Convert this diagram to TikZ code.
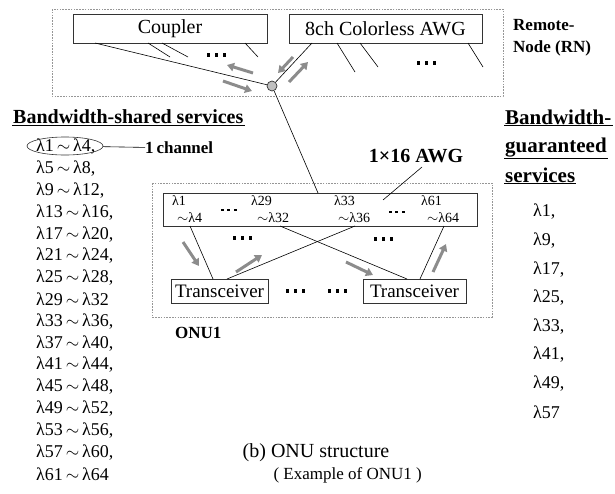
\documentclass[tikz,border=0pt]{standalone}
\usepackage{fontspec}
\setmainfont{Liberation Serif}
\usetikzlibrary{arrows.meta}
\usetikzlibrary{shapes.geometric}
\definecolor{dgray}{RGB}{150,150,150}
\definecolor{agray}{RGB}{140,140,140}

\tikzset{
  dashbox/.style={draw=dgray, line width=0.7pt, dash pattern=on 1.6pt off 1.2pt},
  box/.style={draw=black!80, line width=0.8pt, inner sep=0pt, font=\fontsize{20}{24}\selectfont},
  garrow/.style={draw=agray, line width=3pt, -{Triangle[length=7pt,width=8.5pt]}},
  lam/.style={anchor=west, inner sep=0pt, font=\fontsize{18}{20}\selectfont},
  awglab/.style={anchor=north west, align=left, inner sep=0pt, font=\fontsize{14}{17.5}\selectfont},
  bold/.style={inner sep=0pt, font=\fontsize{17}{22}\selectfont\bfseries},
  head/.style={anchor=west, inner sep=1pt, font=\fontsize{20}{24}\selectfont\bfseries},
  threedots/.pic={\foreach \k in {0,1,2} \fill (\k*8,-1.6) rectangle ++(3.4,3.2);}
}

\begin{document}
\begin{tikzpicture}[x=1pt,y=-1pt]
\useasboundingbox (0,0) rectangle (615,493);

%Remote node:
\draw[dashbox] (52,9) rectangle (503,96);
\node[box, minimum width=194pt, minimum height=29pt] (cpl) at (170,28.5) {Coupler};
\node[box, minimum width=193pt, minimum height=29pt] (cawg) at (385.5,28.5) {8ch Colorless AWG};
\node[bold, anchor=west, align=left] (rn) at (513,38) {Remote-\\Node (RN)};
\node[circle, draw=black!80, fill=black!25, line width=0.7pt, minimum size=10pt, inner sep=0pt] (sp) at (272,86) {};

\coordinate (c1) at (95,43);
\coordinate (c2) at (312,43);
\draw[line width=0.6pt] (c1) -- (sp);
\draw[line width=0.6pt] (c2) -- (sp);
\foreach \xa/\xb/\yb in {148/170/57, 162/188/57, 245/258/57, 337/355/72, 360/378/67, 468/483/67}
  \draw[line width=0.6pt] (\xa,43) -- (\xb,\yb);
\pic at (207,55) {threedots};
\pic at (417,63) {threedots};

\draw[garrow] (253,73) -- (227,65);
\draw[garrow] (223,81) -- (252,91);
\draw[garrow] (293,57) -- (278,73);
\draw[garrow] (289,82) -- (308,62);

%ONU:
\draw[dashbox] (152,183) rectangle (492,317);
\node[box, minimum width=314pt, minimum height=33pt] (awg) at (320,209.5) {};
\node[box, font=\fontsize{19}{22}\selectfont, minimum width=97pt, minimum height=24pt] (tr1) at (219.5,291) {Transceiver};
\node[box, font=\fontsize{19}{22}\selectfont, minimum width=103pt, minimum height=24pt] (tr2) at (414.5,291) {Transceiver};

\node[awglab] (ch1) at (172,195) {λ1\\\hspace*{5pt}$\sim$λ4};
\node[awglab] (ch2) at (251,195) {λ29\\\hspace*{6pt}$\sim$λ32};
\node[awglab] (ch3) at (334,195) {λ33\\\hspace*{4pt}$\sim$λ36};
\node[awglab] (ch4) at (421,195) {λ61\\\hspace*{6pt}$\sim$λ64};
\pic[scale=0.8] at (221,210) {threedots};
\pic[scale=0.8] at (389,212) {threedots};
\pic at (233,238) {threedots};
\pic at (374,239) {threedots};
\pic at (286,291) {threedots};
\pic at (328,291) {threedots};

\coordinate (p1) at (190,226);
\coordinate (p2) at (355,226);
\coordinate (p3) at (280,226);
\coordinate (p4) at (444,226);
\coordinate (q1) at (213,279);
\coordinate (q2) at (227,279);
\coordinate (q3) at (407,279);
\coordinate (q4) at (420,279);
\draw[line width=0.6pt] (p1) -- (q1);
\draw[line width=0.6pt] (q2) -- (p2);
\draw[line width=0.6pt] (p3) -- (q3);
\draw[line width=0.6pt] (q4) -- (p4);

\draw[garrow] (183,242) -- (199,266);
\draw[garrow] (236,272) -- (262,255);
\draw[garrow] (346,262) -- (373,275);
\draw[garrow] (433,272) -- (446,244);

\draw[line width=0.6pt] (sp) -- (318,193);

\node[bold, font=\fontsize{20}{24}\selectfont\bfseries] (awgname) at (416,156) {1×16 AWG};
\coordinate (awgp) at (383,200);
\draw[line width=0.6pt] (422,167) -- (awgp);

\node[bold, anchor=west] (onu) at (175,333) {ONU1};

%Bandwidth-shared services:
\node[head] (hs) at (12,117) {Bandwidth-shared services};
\draw[line width=1pt] (hs.south west) -- (hs.south east);
\foreach \i in {0,...,15}{
  \pgfmathtruncatemacro\la{4*\i+1}
  \pgfmathtruncatemacro\lb{4*\i+4}
  \node[lam] (s\i) at (36,{147+21.8*\i}) {λ\la$\,\sim\,$λ\lb\ifnum\i=7 \else\ifnum\i=15 \else,\fi\fi};
}
\node[ellipse, draw=black!80, line width=0.6pt, minimum width=76pt, minimum height=18pt, inner sep=0pt] (ell) at (65,146) {};
\node[bold, anchor=west] (chan) at (145,148) {1\,channel};
\draw[line width=0.6pt] (ell) -- (chan);

%Bandwidth-guaranteed services:
\node[head, font=\fontsize{21}{24}\selectfont\bfseries] (hg1) at (504,117) {Bandwidth-};
\node[head, font=\fontsize{21}{24}\selectfont\bfseries] (hg2) at (504,148) {guaranteed};
\node[head, font=\fontsize{21}{24}\selectfont\bfseries] (hg3) at (504,175) {services};
\foreach \n in {hg1,hg2,hg3}
  \draw[line width=1pt] (\n.south west) -- (\n.south east);
\foreach \i in {0,...,7}{
  \pgfmathtruncatemacro\la{8*\i+1}
  \node[lam] (g\i) at (533,{212+28.6*\i}) {λ\la\ifnum\i=7 \else,\fi};
}

%Caption:
\node[font=\fontsize{20}{24}\selectfont] (cap1) at (316,453) {(b) ONU structure};
\node[font=\fontsize{17}{20}\selectfont, anchor=west] (cap2) at (270,475) {( Example of ONU1 )};

\end{tikzpicture}
\end{document}
